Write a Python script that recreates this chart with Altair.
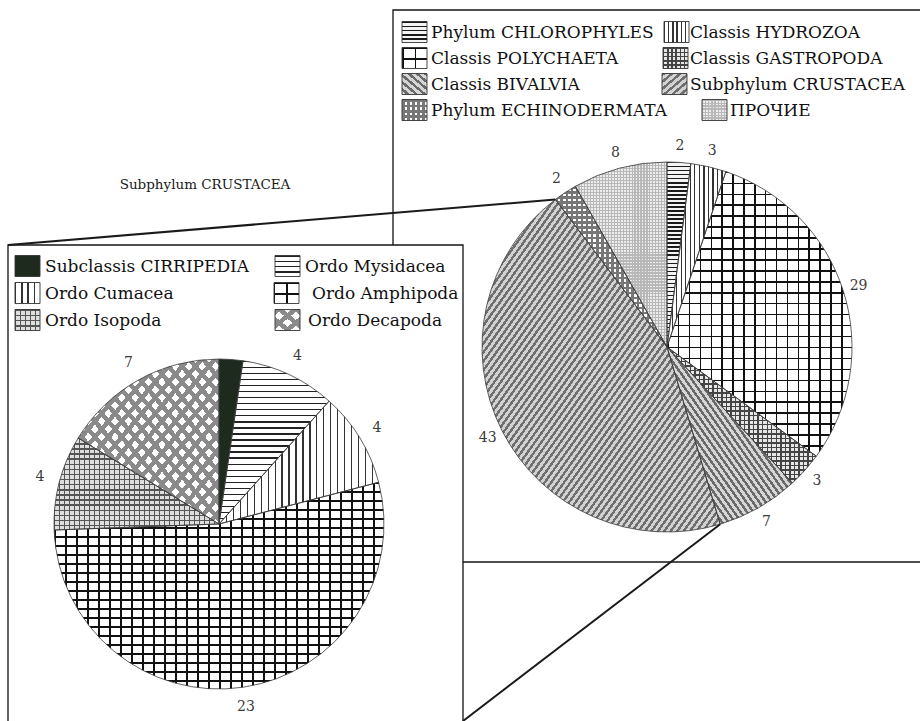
import math
import altair as alt
import pandas as pd

# ---------------- data ----------------
main_categories = [
    "Phylum CHLOROPHYLES", "Classis HYDROZOA", "Classis POLYCHAETA", "Classis GASTROPODA",
    "Classis BIVALVIA", "Subphylum CRUSTACEA", "Phylum ECHINODERMATA", "ПРОЧИЕ",
]
main_values = [2, 3, 29, 3, 7, 43, 2, 8]

sub_categories = [
    "Subclassis CIRRIPEDIA", "Ordo Mysidacea", "Ordo Cumacea",
    "Ordo Amphipoda", "Ordo Isopoda", "Ordo Decapoda",
]
sub_values = [1, 4, 4, 23, 4, 7]
sub_label_shown = [False, True, True, True, True, True]

zoom_title = "Subphylum CRUSTACEA"
zoomed_category = "Subphylum CRUSTACEA"

# ---------------- layout / style ----------------
FONT = "DejaVu Serif"
MAIN_C, MAIN_R, MAIN_LR = (667, 347), 185, 201
SUB_C, SUB_R, SUB_LR = (219, 524), 165, 185
MAIN_BOX = (393, 10, 935, 562)
SUB_BOX = (8, 245, 463, 740)
TRANSPARENT = "rgba(0,0,0,0)"

main_patterns = [
    {"kind": "h", "sp": 4, "lw": 1.4, "line": "#1a1a1a", "bg": "#f4f4f4"},
    {"kind": "v", "sp": 4.5, "lw": 1.3, "line": "#333333", "bg": "#ffffff"},
    {"kind": "grid", "sx": 11, "sy": 11, "lw": 1.5, "line": "#111111", "bg": "#ffffff"},
    {"kind": "grid", "sx": 4.5, "sy": 4.5, "lw": 1.4, "line": "#444444", "bg": "#e6e6e6"},
    {"kind": "d2", "sp": 2.6, "lw": 1.2, "line": "#6a6a6a", "bg": "#d6d6d6"},
    {"kind": "d1", "sp": 2.6, "lw": 1.2, "line": "#6f6f6f", "bg": "#d2d2d2"},
    {"kind": "grid", "sx": 5, "sy": 5, "lw": 2.6, "line": "#777777", "bg": "#ffffff"},
    {"kind": "grid", "sx": 3, "sy": 3, "lw": 1.2, "line": "#b8b8b8", "bg": "#ececec"},
]
sub_patterns = [
    {"kind": "solid", "color": "#1d2a1d"},
    {"kind": "h", "sp": 6, "lw": 1.3, "line": "#222222", "bg": "#ffffff"},
    {"kind": "v", "sp": 7, "lw": 1.3, "line": "#333333", "bg": "#ffffff"},
    {"kind": "grid", "sx": 11, "sy": 9, "lw": 1.5, "line": "#111111", "bg": "#ffffff"},
    {"kind": "grid", "sx": 5, "sy": 5, "lw": 1.4, "line": "#555555", "bg": "#dedede"},
    {"kind": "x", "sp": 5, "lw": 2.2, "line": "#8a8a8a", "bg": "#ffffff"},
]

# legend layout: (swatch x0, text x, row y)
main_legend_pos = [
    (402, 431, 32), (664, 690, 32),
    (402, 431, 58), (663, 690, 58),
    (402, 431, 84), (662, 690, 84),
    (402, 431, 110), (702, 730, 110),
]
sub_legend_pos = [
    (15, 45, 266), (275, 305, 266),
    (15, 45, 293), (274, 312, 293),
    (15, 45, 320), (275, 308, 320),
]
SW_W, SW_H = 25, 21

THETA = alt.Scale(domain=[0, 1], range=[0, 2 * math.pi])


def stripe(kind, w, h, sp, lw, line, bg):
    diag = w * h / math.sqrt(w * w + h * h) if w > 0 and h > 0 else max(w, h)
    length = {"h": h, "v": w, "d1": diag, "d2": diag}[kind]
    n = max(1, int(round(length / sp)))
    frac = min(0.9, lw / (length / n))
    stops = []
    for i in range(n):
        a, b, c = i / n, (i + frac) / n, (i + 1) / n
        stops += [(a, line), (b, line), (b, bg), (c, bg)]
    x1, y1, x2, y2 = {"h": (0, 0, 0, 1), "v": (0, 0, 1, 0),
                      "d1": (0, 0, 1, 1), "d2": (1, 0, 0, 1)}[kind]
    return alt.LinearGradient(
        gradient="linear",
        stops=[alt.GradientStop(offset=round(o, 5), color=col) for o, col in stops],
        x1=x1, y1=y1, x2=x2, y2=y2,
    )


def fills(p, w, h):
    k = p["kind"]
    if k == "solid":
        return [p["color"]]
    if k in ("h", "v", "d1", "d2"):
        return [stripe(k, w, h, p["sp"], p["lw"], p["line"], p["bg"])]
    if k == "grid":
        return [stripe("h", w, h, p["sy"], p["lw"], p["line"], p["bg"]),
                stripe("v", w, h, p["sx"], p["lw"], p["line"], TRANSPARENT)]
    if k == "x":
        return [stripe("d1", w, h, p["sp"], p["lw"], p["line"], p["bg"]),
                stripe("d2", w, h, p["sp"], p["lw"], p["line"], TRANSPARENT)]
    return ["#cccccc"]


def arc_bbox(f0, f1, r):
    a0, a1 = 2 * math.pi * f0, 2 * math.pi * f1
    pts = [(0.0, 0.0), (r * math.sin(a0), -r * math.cos(a0)), (r * math.sin(a1), -r * math.cos(a1))]
    for k in range(5):
        a = k * math.pi / 2
        if a0 < a < a1:
            pts.append((r * math.sin(a), -r * math.cos(a)))
    xs = [p[0] for p in pts]
    ys = [p[1] for p in pts]
    return max(xs) - min(xs), max(ys) - min(ys)


def polar(c, r, f):
    a = 2 * math.pi * f
    return c[0] + r * math.sin(a), c[1] - r * math.cos(a)


def pie_base(cats, vals, extra=None):
    d = {"cat": cats, "value": vals, "order": list(range(len(cats)))}
    if extra:
        d.update(extra)
    return (
        alt.Chart(pd.DataFrame(d))
        .transform_window(cum="sum(value)", sort=[alt.SortField("order")], frame=[None, 0])
        .transform_joinaggregate(total="sum(value)")
        .transform_calculate(
            start="(datum.cum - datum.value) / datum.total",
            end="datum.cum / datum.total",
            mid="(datum.cum - datum.value / 2) / datum.total",
        )
    )


def pie_layers(cats, vals, patterns, center, radius, label_r, shown=None):
    total = float(sum(vals))
    extra = {"shown": shown if shown is not None else [True] * len(cats)}
    base = pie_base(cats, vals, extra)
    out = []
    cum = 0.0
    for cat, v, pat in zip(cats, vals, patterns):
        f0, f1 = cum / total, (cum + v) / total
        cum += v
        w, h = arc_bbox(f0, f1, radius)
        for fl in fills(pat, w, h):
            out.append(
                base.transform_filter(alt.datum.cat == cat)
                .mark_arc(outerRadius=radius, fill=fl)
                .encode(theta=alt.Theta("start:Q", scale=THETA), theta2="end:Q",
                        x=alt.value(center[0]), y=alt.value(center[1]))
            )
    out.append(
        base.mark_arc(outerRadius=radius, fillOpacity=0, stroke="#3a3a3a", strokeWidth=0.8)
        .encode(theta=alt.Theta("start:Q", scale=THETA), theta2="end:Q",
                x=alt.value(center[0]), y=alt.value(center[1]))
    )
    out.append(
        base.transform_filter("datum.shown")
        .mark_text(radius=label_r, font=FONT, fontSize=14, color="#3c3c3c")
        .encode(theta=alt.Theta("mid:Q", scale=THETA), text="value:Q",
                x=alt.value(center[0]), y=alt.value(center[1]))
    )
    return out


def legend_layers(cats, patterns, positions):
    df = pd.DataFrame({"cat": cats})
    out = []
    for cat, pat, (sx, tx, ry) in zip(cats, patterns, positions):
        y0, y1 = ry - SW_H / 2, ry + SW_H / 2
        src = alt.Chart(df).transform_filter(alt.datum.cat == cat)
        for fl in fills(pat, SW_W, SW_H):
            out.append(src.mark_rect(fill=fl).encode(
                x=alt.value(sx), x2=alt.value(sx + SW_W), y=alt.value(y0), y2=alt.value(y1)))
        out.append(src.mark_rect(fillOpacity=0, stroke="#333333", strokeWidth=0.9).encode(
            x=alt.value(sx), x2=alt.value(sx + SW_W), y=alt.value(y0), y2=alt.value(y1)))
        out.append(src.mark_text(align="left", baseline="middle", font=FONT, fontSize=17,
                                 color="#111111").encode(
            x=alt.value(tx), y=alt.value(ry + 1), text="cat:N"))
    return out


one = pd.DataFrame({"k": [0]})


def box(b):
    return alt.Chart(one).mark_rect(fill="white", stroke="#151515", strokeWidth=1.3).encode(
        x=alt.value(b[0]), y=alt.value(b[1]), x2=alt.value(b[2]), y2=alt.value(b[3]))


def line(p, q, width=2):
    return alt.Chart(one).mark_rule(color="#1a1a1a", strokeWidth=width).encode(
        x=alt.value(p[0]), y=alt.value(p[1]), x2=alt.value(q[0]), y2=alt.value(q[1]))


# connector end points come from the wedge of the zoomed category
zi = main_categories.index(zoomed_category)
mt = float(sum(main_values))
z0 = sum(main_values[:zi]) / mt
z1 = sum(main_values[:zi + 1]) / mt
end_a = polar(MAIN_C, MAIN_R, z1)
end_b = polar(MAIN_C, MAIN_R, z0)

layers = []
layers.append(box(MAIN_BOX))
layers += pie_layers(main_categories, main_values, main_patterns, MAIN_C, MAIN_R, MAIN_LR)
layers += legend_layers(main_categories, main_patterns, main_legend_pos)
layers.append(box(SUB_BOX))
layers += pie_layers(sub_categories, sub_values, sub_patterns, SUB_C, SUB_R, SUB_LR, sub_label_shown)
layers += legend_layers(sub_categories, sub_patterns, sub_legend_pos)
layers.append(
    alt.Chart(pd.DataFrame({"t": [zoom_title]})).mark_text(font=FONT, fontSize=13.5, color="#1a1a1a")
    .encode(x=alt.value(205), y=alt.value(185), text="t:N")
)
layers.append(line((SUB_BOX[0], SUB_BOX[1]), end_a))
layers.append(line((SUB_BOX[2], 721), end_b))

chart = (
    alt.layer(*layers)
    .properties(width=920, height=721, padding=0, autosize=alt.AutoSizeParams(type="none"),
                background="white")
    .configure_view(stroke=None)
)

chart.save("out.html", embed_options={"renderer": "svg", "actions": False})
